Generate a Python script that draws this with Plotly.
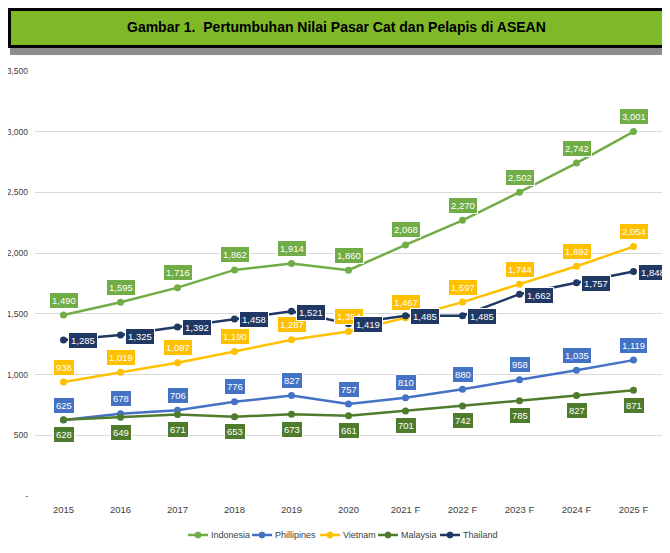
import plotly.graph_objects as go

years = ["2015", "2016", "2017", "2018", "2019", "2020",
         "2021 F", "2022 F", "2023 F", "2024 F", "2025 F"]

indonesia = [1490, 1595, 1716, 1862, 1914, 1860, 2068, 2270, 2502, 2742, 3001]
phillipines = [625, 678, 706, 776, 827, 757, 810, 880, 958, 1035, 1119]
vietnam = [938, 1019, 1097, 1190, 1287, 1354, 1467, 1597, 1744, 1892, 2054]
malaysia = [628, 649, 671, 653, 673, 661, 701, 742, 785, 827, 871]
thailand = [1285, 1325, 1392, 1458, 1521, 1419, 1485, 1485, 1662, 1757, 1848]

y_ticks = [0, 500, 1000, 1500, 2000, 2500, 3000, 3500]
y_tick_text = ["-", "500", "1,000", "1,500", "2,000", "2,500", "3,000", "3,500"]

title = "Gambar 1.  Pertumbuhan Nilai Pasar Cat dan Pelapis di ASEAN"

# name, values, colour, label offset (x, y) in px, legend x (window px)
series = [
    ("Indonesia", indonesia, "#70AD47", 0, 15, 188),
    ("Phillipines", phillipines, "#4472C4", 0, 15, 252),
    ("Vietnam", vietnam, "#FFC000", 0, 15, 320),
    ("Malaysia", malaysia, "#4F7B2C", 0, -15, 378),
    ("Thailand", thailand, "#1F3864", 19, -1, 440),
]

# the page body has an 8px margin, so the figure is drawn 8px in from the
# window corner; sizes below are in window pixels minus that offset
OFF = 8
W, H = 670 - OFF, 553 - OFF
ML, MR, MT, MB = 35 - OFF, 8, 71 - OFF, 57
FONT = "Liberation Sans Narrow, Arial Narrow, Liberation Sans, Arial"

# window pixel -> paper helpers for banner and legend
pw, ph = W - ML - MR, H - MT - MB
def px(x):
    return (x - OFF - ML) / pw
def py(y):
    return 1 - (y - OFF - MT) / ph

fig = go.Figure()
annotations = []
shapes = [
    dict(type="rect", xref="paper", yref="paper", layer="below",
         x0=px(10), x1=px(680), y0=py(55), y1=py(47),
         fillcolor="#8C8C8C", line=dict(width=0)),
    dict(type="rect", xref="paper", yref="paper", layer="below",
         x0=px(9.5), x1=px(680), y0=py(46.5), y1=py(9.5),
         fillcolor="#80B927", line=dict(color="black", width=3)),
]
LEG_Y = 535
for name, vals, color, dx, dy, lx in series:
    fig.add_trace(go.Scatter(
        x=years, y=vals, name=name, mode="lines+markers",
        line=dict(color=color, width=2.5),
        marker=dict(color=color, size=7),
        showlegend=False,
    ))
    # category axis: place labels by category index
    for i, v in enumerate(vals):
        annotations.append(dict(
            x=i, y=v, xref="x", yref="y", text=f"{v:,}",
            showarrow=False, xshift=dx, yshift=dy,
            bgcolor=color, bordercolor="white", borderwidth=1, borderpad=2,
            font=dict(family=FONT, size=9.5, color="white"),
        ))
    # compact legend entry: short line with a dot, then the name
    shapes.append(dict(type="line", xref="paper", yref="paper",
                       x0=px(lx), x1=px(lx + 20), y0=py(LEG_Y), y1=py(LEG_Y),
                       line=dict(color=color, width=2.5)))
    shapes.append(dict(type="circle", xref="paper", yref="paper",
                       x0=px(lx + 7), x1=px(lx + 13), y0=py(LEG_Y + 3), y1=py(LEG_Y - 3),
                       fillcolor=color, line=dict(color=color, width=1)))
    annotations.append(dict(
        x=px(lx + 21), y=py(LEG_Y), xref="paper", yref="paper", text=name,
        xanchor="left", yanchor="middle", showarrow=False,
        font=dict(family=FONT, size=9, color="#404040"),
    ))

annotations.append(dict(
    x=px(336), y=py(27), xref="paper", yref="paper", text=f"<b>{title}</b>",
    xanchor="center", yanchor="middle",
    showarrow=False, font=dict(family=FONT, size=14, color="black"),
))

fig.update_layout(
    width=W, height=H,
    margin=dict(l=ML, r=MR, t=MT, b=MB, autoexpand=False),
    plot_bgcolor="white", paper_bgcolor="white",
    showlegend=False,
    shapes=shapes,
    annotations=annotations,
    font=dict(family=FONT),
)
fig.update_xaxes(
    type="category", range=[-0.5, 10.5], showgrid=False, showline=False,
    ticks="", automargin=False, ticklabelstandoff=6,
    tickfont=dict(family=FONT, size=9.5, color="#404040"),
)
fig.update_yaxes(
    range=[0, 3500], tickvals=y_ticks, ticktext=y_tick_text, automargin=False,
    gridcolor="#D9D9D9", gridwidth=1, zeroline=False, showline=False,
    tickfont=dict(family=FONT, size=8.5, color="#404040"), ticklabelstandoff=6,
)

fig.write_html("out.html")
